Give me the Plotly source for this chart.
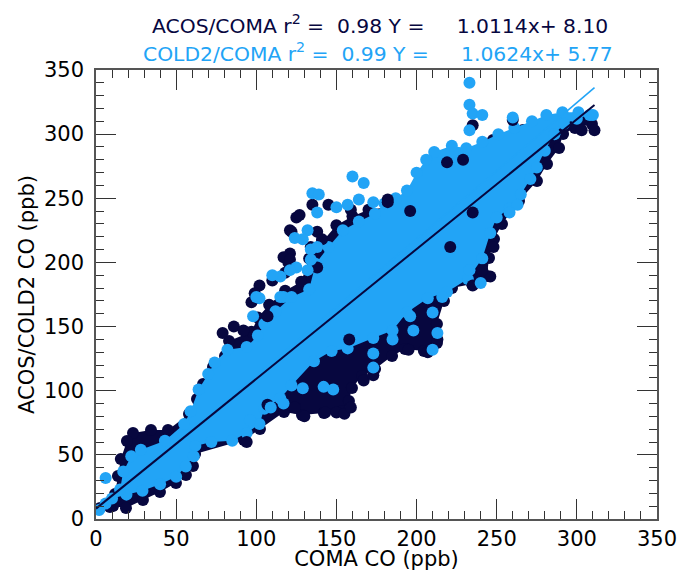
import plotly.graph_objects as go

DARK = '#07073f'
LIGHT = '#22a4f6'

# ---- ACOS vs COMA : dense core envelope ----
acos_core_x = [2.5, 10.6, 18.7, 29.3, 39.9, 49.9, 56.1, 60.5, 61.8, 92.3, 102.3, 117.3, 128.5, 142.2,
               153.5, 157.8, 159.7, 166.0, 174.1, 184.7, 192.8, 204.6, 212.7, 212.7, 217.1, 222.1,
               234.6, 243.9, 245.2, 248.3, 253.3, 263.9, 275.1, 281.4, 288.9, 291.4, 298.8, 309.4,
               303.8, 285.1, 266.4, 247.7, 229.0, 219.6, 204.0, 194.6, 183.4, 170, 160, 150, 141,
               133, 128, 118, 108, 101, 97, 83.0, 80.5, 73.0, 66.8,
               63.0, 58.0, 44.9, 34.3, 23.1, 19.3, 15.5, 13.7, 11.9, 8.7]
acos_core_y = [8.6, 10.1, 8.6, 14.8, 21.0, 28.1, 34.3, 41.3, 50.7, 61.6, 70.2, 83.4, 81.1, 82.6,
               84.2, 92.0, 102.1, 111.5, 116.9, 127.1, 132.5, 131.0, 137.2, 152.0, 169.9, 180.1,
               183.2, 189.4, 203.4, 218.3, 229.9, 247.9, 263.5, 276.7, 289.2, 300.1, 304.8, 307.9,
               311.0, 309.5, 303.2, 295.4, 284.5, 272.8, 265.0, 249.4, 243.2, 241, 236, 229, 216,
               203, 185, 178, 167, 157, 146, 138.7, 127.1, 118.5,
               105.2, 93.5, 81.8, 69.4, 69.4, 67.0, 60.8, 46.8, 33.5, 19.5, 9.4]
# ---- ACOS vs COMA : scattered points ----
acos_pts_x = [311, 303, 260, 235, 219, 182, 94, 130, 143, 150, 155, 107, 124, 79, 86, 92, 102, 100,
              145, 135, 195, 207, 213, 235, 246, 241, 167, 173, 159, 196, 229, 158, 221, 248, 235,
              125, 122, 138, 121, 120, 118, 99, 110, 97, 107, 134, 138, 141, 127, 121, 117, 159,
              182, 121]
acos_pts_y = [303, 303, 311, 307, 278, 249, 60, 80, 83, 83, 82, 89, 87, 145, 150, 147, 182, 172,
              245, 245, 132, 130, 140, 182, 189, 194, 108, 112, 87, 240, 280, 140, 212, 212, 239,
              235, 224, 224, 207, 200, 192, 176, 186, 169, 158, 212, 196, 218, 237, 225, 204, 241,
              247, 202]

# ---- COLD2 vs COMA : dense core envelope ----
cold2_core_x = [2, 10, 19, 29, 40, 50, 56, 61, 62, 72, 85, 94, 102, 105, 115, 122, 136, 147, 157,
                173, 185, 194, 207, 219, 232, 241, 246, 250, 258, 265, 271, 275, 280, 286, 292, 300,
                308, 301, 291, 281, 272, 261, 251, 241, 231, 222, 211, 206, 200, 194, 187, 180, 174,
                164, 154, 145, 137, 133, 122, 112, 105, 101, 94, 82, 74, 70, 64, 59, 55,
                43, 28, 22, 17, 15, 6]
cold2_core_y = [7, 16, 19, 22, 27, 33, 41, 49, 57, 60, 61, 67, 74, 86, 94, 104, 123, 131, 133,
                141, 147, 161, 172, 177, 187, 203, 223, 235, 242, 253, 265, 274, 287, 300, 308, 312,
                315, 317, 317, 315, 310, 305, 300, 294, 289, 291, 286, 280, 270, 256, 250, 246, 238,
                232, 225, 212, 199, 179, 173, 162, 152, 143, 134, 132, 122, 113, 101, 84,
                74, 61, 54, 49, 37, 23, 12]
# ---- COLD2 vs COMA : scattered points ----
cold2_pts_x = [6, 233, 233, 235, 241, 233, 260, 310, 160, 167, 135, 139, 210, 196, 198, 185, 173,
               173, 148, 142, 129, 117, 109, 96, 150, 157, 164, 173, 138, 132, 129, 134, 134, 125,
               121, 115, 110, 117, 102, 98, 124, 138, 132, 100, 115, 216, 233, 240, 210, 213, 263,
               258]
cold2_pts_y = [32, 340, 323, 316, 315, 303, 313, 315, 267, 262, 254, 253, 132, 158, 147, 140, 129,
               118, 101, 103, 102, 90, 87, 77, 243, 245, 249, 247, 239, 225, 218, 210, 202, 196,
               194, 189, 190, 173, 172, 158, 219, 212, 194, 173, 173, 173, 194, 184, 161, 145, 245,
               239]

# ---- fit lines ----
fit_x = [0, 311]
acos_slope, acos_icpt = 1.0114, 8.10
cold2_slope, cold2_icpt = 1.0624, 5.77
acos_r2, cold2_r2 = 0.98, 0.99

MS = 12
fig = go.Figure()
fig.add_trace(go.Scatter(x=acos_core_x, y=acos_core_y, mode='markers', fill='toself',
                         fillcolor=DARK, marker=dict(size=MS, color=DARK, line=dict(width=0)),
                         line=dict(width=0, color=DARK), hoverinfo='skip'))
fig.add_trace(go.Scatter(x=cold2_core_x, y=cold2_core_y, mode='markers', fill='toself',
                         fillcolor=LIGHT, marker=dict(size=MS, color=LIGHT, line=dict(width=0)),
                         line=dict(width=0, color=LIGHT), hoverinfo='skip'))
fig.add_trace(go.Scatter(x=acos_pts_x, y=acos_pts_y, mode='markers',
                         marker=dict(size=MS, color=DARK, line=dict(width=0))))
fig.add_trace(go.Scatter(x=cold2_pts_x, y=cold2_pts_y, mode='markers',
                         marker=dict(size=MS, color=LIGHT, line=dict(width=0))))
fig.add_trace(go.Scatter(x=fit_x, y=[cold2_slope * v + cold2_icpt for v in fit_x], mode='lines',
                         line=dict(color=LIGHT, width=1.6)))
fig.add_trace(go.Scatter(x=fit_x, y=[acos_slope * v + acos_icpt for v in fit_x], mode='lines',
                         line=dict(color=DARK, width=2)))

FONT = 'DejaVu Sans'
axis_common = dict(range=[0, 350], tickvals=list(range(0, 351, 50)), ticks='inside', ticklen=20,
                   tickwidth=1, tickcolor='#333333', showline=True, linecolor='#555555',
                   linewidth=1.5, mirror='ticks', showgrid=False, zeroline=False, automargin=False,
                   tickfont=dict(family=FONT, size=21, color='black'),
                   minor=dict(dtick=10, ticks='inside', ticklen=8, tickwidth=1, tickcolor='#333333'))
fig.update_xaxes(**axis_common, title=dict(text='COMA CO (ppb)', font=dict(family=FONT, size=21, color='black'), standoff=0))
fig.update_yaxes(**axis_common, ticklabelstandoff=6,
                 title=dict(text='ACOS/COLD2 CO (ppb)', font=dict(family=FONT, size=21, color='black'), standoff=4))

nb = '\u00a0'
line1 = f"ACOS/COMA r<sup>2</sup> ={nb}{nb}{acos_r2:.2f} Y ={nb*5}{acos_slope:.4f}x+ {acos_icpt:.2f}"
line2 = f"COLD2/COMA r<sup>2</sup> ={nb}{nb}{cold2_r2:.2f} Y ={nb*5}{cold2_slope:.4f}x+ {cold2_icpt:.2f}"
fig.add_annotation(text=line1, xref='paper', yref='paper', x=0.506, y=1.102, showarrow=False,
                   xanchor='center', yanchor='middle', font=dict(family=FONT, size=20.3, color=DARK))
fig.add_annotation(text=line2, xref='paper', yref='paper', x=0.502, y=1.038, showarrow=False,
                   xanchor='center', yanchor='middle', font=dict(family=FONT, size=20.3, color=LIGHT))

fig.update_layout(width=683, height=571, showlegend=False, plot_bgcolor='white',
                  paper_bgcolor='white', margin=dict(l=96, r=26, t=70, b=52, autoexpand=False))
fig.write_html("out.html", config={'displayModeBar': False},
               post_script="document.body.style.margin='0';document.body.style.overflow='hidden';")
